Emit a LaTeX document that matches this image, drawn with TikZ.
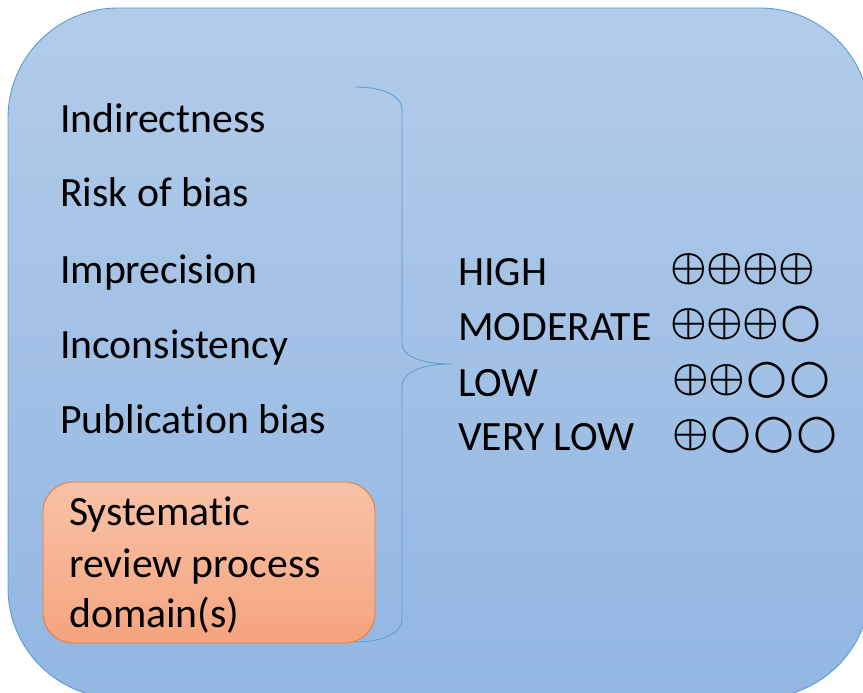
\documentclass[tikz,border=0pt]{standalone}
\usepackage{fontspec}
\setmainfont[Ligatures=NoCommon]{Carlito}
\newfontfamily\symfont{DejaVu Sans}
\definecolor{bgtop}{RGB}{178,203,233}
\definecolor{bgbot}{RGB}{146,183,226}
\definecolor{bgline}{RGB}{91,155,213}
\definecolor{ortop}{RGB}{248,194,167}
\definecolor{orbot}{RGB}{245,164,126}
\definecolor{orline}{RGB}{237,125,49}
\newcommand{\pl}{\makebox[36pt]{$\vcenter{\hbox{\scalebox{4.1}{\boldmath$\oplus$}}}$}}
\newcommand{\ci}{\makebox[43pt]{$\vcenter{\hbox{\fontsize{47}{47}\selectfont\symfont\bfseries ○}}$}}
\tikzset{
  lbl/.style={anchor=base west, inner sep=0pt, font=\fontsize{41.7}{41.7}\selectfont},
  syms/.style={anchor=west, inner sep=0pt},
}
\begin{document}
\begin{tikzpicture}[x=1pt,y=-1pt]
\useasboundingbox (0,0) rectangle (863,693);
\begin{scope}
\clip (0,0) rectangle (863,693);
\draw[bgline, line width=0.9pt, top color=bgtop, bottom color=bgbot, rounded corners=110pt]
  (8,8) rectangle (870,698);
\end{scope}
\draw[orline, line width=0.9pt, top color=ortop, bottom color=orbot, rounded corners=30pt]
  (43,482) rectangle (375,643);
\node[lbl] (ind) at (60,132.7) {Indirectness};
\node[lbl] (rob) at (60,206.7) {Risk of bias};
\node[lbl] (imp) at (60,283) {Imprecision};
\node[lbl] (inc) at (60,358) {Inconsistency};
\node[lbl] (pub) at (60,433) {Publication bias};
\node[lbl] (s1) at (69,525) {Systematic};
\node[lbl] (s2) at (69,577) {review process};
\node[lbl] (s3) at (69,627) {domain(s)};
\coordinate (btop) at (355,87);
\coordinate (bbot) at (355,642);
\coordinate (btip) at (452,364);
\draw[bgline, line width=0.8pt]
  (btop) .. controls (385,87) and (402,97) .. (402,109) -- (402,343)
  .. controls (402,356) and (420,364) .. (btip)
  .. controls (420,364) and (402,373) .. (402,386) -- (402,620)
  .. controls (402,632) and (385,642) .. (bbot);
\node[lbl] (high) at (458,285) {HIGH};
\node[lbl] (mod) at (458,340) {MODERATE};
\node[lbl] (low) at (458,396.7) {LOW};
\node[lbl] (vlow) at (458,450) {VERY LOW};
\node[syms] (r1) at (671,269) {\pl\pl\pl\pl};
\node[syms] (r2) at (671,324) {\pl\pl\pl\ci};
\node[syms] (r3) at (673,380) {\pl\pl\ci\ci};
\node[syms] (r4) at (673,435) {\pl\ci\ci\ci};
\end{tikzpicture}
\end{document}
